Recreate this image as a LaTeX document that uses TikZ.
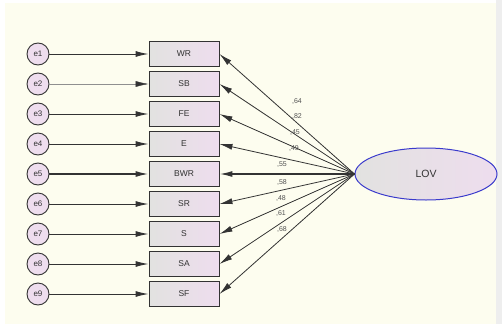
\documentclass[tikz,border=0pt]{standalone}
\usepackage{fontspec}
\setmainfont{Liberation Sans}
\usepackage{xcolor}
\definecolor{semPaper}{HTML}{FDFDEF}
\definecolor{semStrip}{HTML}{EEEEEE}
\definecolor{semPink}{HTML}{EEDDEE}
\definecolor{semGray}{HTML}{E2E2E0}
\definecolor{semBlue}{HTML}{3A3ACC}
\definecolor{semInk}{HTML}{333333}
\usepackage{tikz}
\usetikzlibrary{arrows.meta, shapes.geometric}
\tikzset{
    errnode/.style={circle,draw=semInk,line width=0.9pt,fill=semPink,minimum size=22pt,inner sep=0pt,font=\fontsize{8}{9}\selectfont,text=semInk},
    obsbox/.style={rectangle,draw=semInk,line width=0.9pt,left color=semGray,right color=semPink,minimum width=70pt,minimum height=25pt,inner sep=0pt,font=\fontsize{8.5}{10}\selectfont,text=semInk},
    latent/.style={ellipse,draw=semBlue,line width=1pt,left color=semGray,right color=semPink,minimum width=142pt,minimum height=52pt,inner sep=0pt,font=\fontsize{10.5}{12}\selectfont,text=semInk},
    errArrow/.style={draw=semInk,line width=1pt,-{Latex[length=13pt,width=6pt]}},
    loadArrow/.style={draw=semInk,line width=0.8pt,-{Latex[length=13pt,width=6pt]}},
    coef/.style={font=\fontsize{7}{8}\selectfont,text=semInk!85,inner sep=0pt}
}

\begin{document}
\begin{tikzpicture}[x=1pt,y=-1pt]
  % paper and right strip
  \fill[white] (0,0) rectangle (502,324);
  \fill[semPaper] (5,3) rectangle (496,324);
  \fill[semStrip] (496,0) rectangle (502,324);
  \useasboundingbox (0,0) rectangle (502,324);

  % columns
  \def\xE{38}     % error circles
  \def\xB{184}    % observed boxes

  % error terms
  \node[errnode] (e1) at (\xE,54)  {e1};
  \node[errnode] (e2) at (\xE,84)  {e2};
  \node[errnode] (e3) at (\xE,114) {e3};
  \node[errnode] (e4) at (\xE,144) {e4};
  \node[errnode] (e5) at (\xE,174) {e5};
  \node[errnode] (e6) at (\xE,204) {e6};
  \node[errnode] (e7) at (\xE,234) {e7};
  \node[errnode] (e8) at (\xE,264) {e8};
  \node[errnode] (e9) at (\xE,294) {e9};

  % observed variables
  \node[obsbox] (WR)  at (\xB,54)  {WR};
  \node[obsbox] (SB)  at (\xB,84)  {SB};
  \node[obsbox] (FE)  at (\xB,114) {FE};
  \node[obsbox] (E)   at (\xB,144) {E};
  \node[obsbox] (BWR) at (\xB,174) {BWR};
  \node[obsbox] (SR)  at (\xB,204) {SR};
  \node[obsbox] (S)   at (\xB,234) {S};
  \node[obsbox] (SA)  at (\xB,264) {SA};
  \node[obsbox] (SF)  at (\xB,294) {SF};

  % latent factor
  \node[latent] (LOV) at (426,174) {LOV};
  \coordinate (src) at (LOV.west);

  % error arrows
  \draw[errArrow] (e1) -- (WR);
  \draw[errArrow,line width=0.4pt,draw=semInk!55,
        -{Latex[length=13pt,width=6pt,color=semInk]}] (e2) -- (SB);
  \draw[errArrow] (e3) -- (FE);
  \draw[errArrow] (e4) -- (E);
  \draw[errArrow,line width=1.6pt] (e5) -- (BWR);
  \draw[errArrow] (e6) -- (SR);
  \draw[errArrow] (e7) -- (S);
  \draw[errArrow] (e8) -- (SA);
  \draw[errArrow] (e9) -- (SF);

  % loadings
  \draw[loadArrow] (src) -- (WR.east);
  \draw[loadArrow] (src) -- (SB.east);
  \draw[loadArrow] (src) -- (FE.east);
  \draw[loadArrow] (src) -- (E.east);
  \draw[loadArrow,line width=1.6pt] (src) -- (BWR.east);
  \draw[loadArrow] (src) -- (SR.east);
  \draw[loadArrow] (src) -- (S.east);
  \draw[loadArrow] (src) -- (SA.east);
  \draw[loadArrow] (src) -- (SF.east);

  % coefficients
  \node[coef] (cWR)  at (297,102) {,64};
  \node[coef] (cSB)  at (297,117) {,82};
  \node[coef] (cFE)  at (295,133) {,45};
  \node[coef] (cE)   at (294,149) {,49};
  \node[coef] (cBWR) at (282,165) {,55};
  \node[coef] (cSR)  at (282,182) {,58};
  \node[coef] (cS)   at (281,198) {,48};
  \node[coef] (cSA)  at (281,213) {,61};
  \node[coef] (cSF)  at (282,229) {,68};
\end{tikzpicture}
\end{document}
